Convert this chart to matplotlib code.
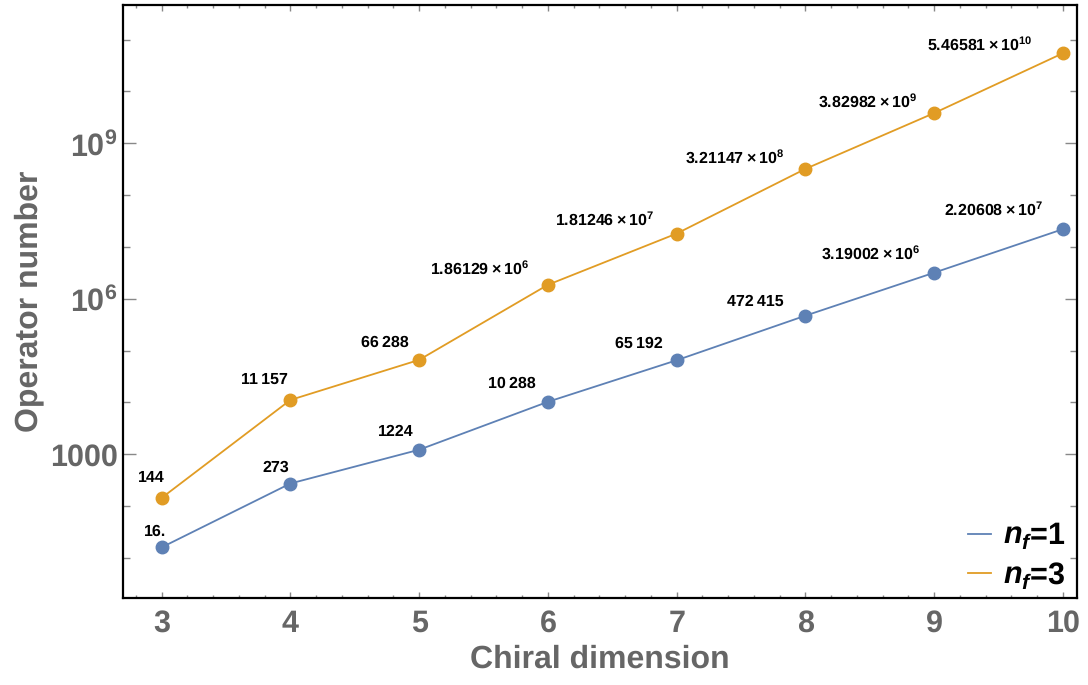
import matplotlib
matplotlib.use("Agg")
import matplotlib.pyplot as plt
from matplotlib.ticker import FixedLocator, NullFormatter

# chiral dimension vs number of operators, for one and three flavours
dims = [3, 4, 5, 6, 7, 8, 9, 10]
ops_nf1 = [16, 273, 1224, 10288, 65192, 472415, 3.19002e6, 2.20608e7]
ops_nf3 = [144, 11157, 66288, 1.86129e6, 1.81246e7, 3.21147e8, 3.82982e9, 5.46581e10]

labels_nf1 = ["16.", "273", "1224", "10\u2009288", "65\u2009192", "472\u2009415",
              "3.19002\u2009\u00d7\u200910$^{\\mathbf{6}}$", "2.20608\u2009\u00d7\u200910$^{\\mathbf{7}}$"]
labels_nf3 = ["144", "11\u2009157", "66\u2009288",
              "1.86129\u2009\u00d7\u200910$^{\\mathbf{6}}$", "1.81246\u2009\u00d7\u200910$^{\\mathbf{7}}$",
              "3.21147\u2009\u00d7\u200910$^{\\mathbf{8}}$", "3.82982\u2009\u00d7\u200910$^{\\mathbf{9}}$",
              "5.46581\u2009\u00d7\u200910$^{\\mathbf{10}}$"]

# label placement (right edge / baseline, pixels from the point)
offs_nf1 = [(5, 12), (-1, 12), (-6, 14), (-12, 14), (-14, 12), (-22, 10), (-14, 14), (-20, 14)]
offs_nf3 = [(3, 16), (-3, 16), (-10, 13), (-19, 11), (-22, 9), (-21, 6), (-17, 6), (-30, 3)]

plt.rcParams['font.family'] = ['Liberation Sans', 'DejaVu Sans']
plt.rcParams['text.hinting'] = 'no_hinting'
plt.rcParams['mathtext.fontset'] = 'custom'
plt.rcParams['mathtext.rm'] = 'Liberation Sans'
plt.rcParams['mathtext.bf'] = 'Liberation Sans:bold'
plt.rcParams['mathtext.it'] = 'Liberation Sans:italic'
plt.rcParams['mathtext.bfit'] = 'Liberation Sans:bold:italic'

blue = '#5E81B5'
orange = '#E19C24'
gray = '#666666'

fig = plt.figure(figsize=(10.88, 6.85), dpi=100)
ax = fig.add_axes([0.1133, 0.1270, 0.8766, 0.8657])

ax.plot(dims, ops_nf1, color=blue, lw=1.3, marker='o', ms=9, label=r'$\mathbfit{n}_{\mathbfit{f}}$=1')
ax.plot(dims, ops_nf3, color=orange, lw=1.3, marker='o', ms=9, label=r'$\mathbfit{n}_{\mathbfit{f}}$=3')

for xs, vals, labs, offs in [(dims, ops_nf1, labels_nf1, offs_nf1), (dims, ops_nf3, labels_nf3, offs_nf3)]:
    for x, v, lab, (dx, dy) in zip(xs, vals, labs, offs):
        ax.annotate(lab, (x, v), xytext=(dx, dy), textcoords='offset pixels',
                    ha='right', va='baseline', fontsize=11.5, fontweight='bold', color='black')

ax.set_yscale('log')
ax.set_xlim(2.702, 10.109)
ax.set_ylim(10 ** 0.227, 10 ** 11.668)

ax.xaxis.set_major_locator(FixedLocator(dims))
ax.xaxis.set_minor_locator(FixedLocator([3 + 0.2 * i for i in range(-3, 37) if i % 5 != 0]))
ax.yaxis.set_major_locator(FixedLocator([1e3, 1e6, 1e9]))
ax.yaxis.set_minor_locator(FixedLocator([10.0 ** k for k in range(0, 13) if k % 3 != 0]))
ax.yaxis.set_minor_formatter(NullFormatter())
ax.set_yticklabels(['1000', r'10$^{\mathbf{6}}$', r'10$^{\mathbf{9}}$'])

ax.tick_params(axis='both', which='both', direction='in', top=True, right=True,
               color='#888888', width=1, labelcolor=gray)
ax.tick_params(axis='both', which='major', labelsize=22)
ax.tick_params(axis='x', which='major', length=4, pad=8)
ax.tick_params(axis='x', which='minor', length=2)
ax.tick_params(axis='y', which='major', length=9, pad=4)
ax.tick_params(axis='y', which='minor', length=5)
for t in ax.get_xticklabels() + ax.get_yticklabels():
    t.set_fontweight('bold')

for s in ax.spines.values():
    s.set_linewidth(1.6)
    s.set_color('black')

ax.set_xlabel('Chiral dimension', fontsize=23, fontweight='bold', color=gray, labelpad=5)
ax.set_ylabel('Operator number', fontsize=23, fontweight='bold', color=gray, labelpad=4)

leg = ax.legend(loc='lower right', bbox_to_anchor=(1.004, -0.014), frameon=False,
                prop={'size': 22, 'weight': 'bold'},
                handlelength=0.75, handletextpad=0.4, labelspacing=0.3, borderaxespad=0.1)
for h in leg.get_lines():
    h.set_marker('')
    h.set_linewidth(1.3)

fig.savefig('out.png', dpi=100)
